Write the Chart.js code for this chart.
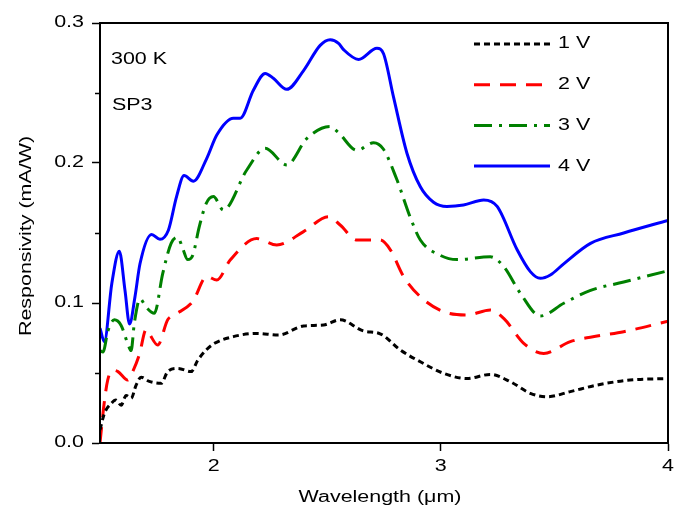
<!DOCTYPE html>
<html>
<head>
<meta charset="utf-8">
<script src="https://cdn.jsdelivr.net/npm/chart.js@4.4.0/dist/chart.umd.min.js"></script>
<style>
  html, body { margin: 0; padding: 0; background: #fff; }
  #chart { display: block; }
</style>
</head>
<body>
<canvas id="chart" width="674" height="512"></canvas>
<script>
// series labels
const seriesLabels = ['1 V', '2 V', '3 V', '4 V'];

// 1 V
const wl1V = [1.500, 1.519, 1.548, 1.570, 1.593, 1.615, 1.637, 1.659, 1.681, 1.717, 1.769, 1.798, 1.842, 1.901, 1.930, 1.967, 2.004, 2.087, 2.190, 2.285, 2.396, 2.484, 2.557, 2.660, 2.733, 2.822, 2.910, 3.012, 3.115, 3.218, 3.306, 3.394, 3.468, 3.570, 3.688, 3.833, 4.000];
const resp1V = [0.0093, 0.021, 0.028, 0.0307, 0.027, 0.034, 0.032, 0.0414, 0.047, 0.044, 0.0426, 0.051, 0.0533, 0.051, 0.059, 0.0664, 0.0712, 0.076, 0.0783, 0.0771, 0.0836, 0.0843, 0.088, 0.080, 0.078, 0.0664, 0.058, 0.0498, 0.046, 0.049, 0.0438, 0.0355, 0.033, 0.0367, 0.0414, 0.045, 0.046];

// 2 V
const wl2V = [1.500, 1.518, 1.534, 1.556, 1.579, 1.622, 1.644, 1.673, 1.703, 1.717, 1.754, 1.798, 1.827, 1.908, 1.970, 2.014, 2.073, 2.190, 2.278, 2.396, 2.506, 2.557, 2.631, 2.733, 2.778, 2.836, 2.910, 3.012, 3.115, 3.218, 3.277, 3.365, 3.453, 3.570, 3.688, 3.805, 4.000];
const resp2V = [0.0, 0.028, 0.045, 0.052, 0.051, 0.045, 0.051, 0.063, 0.081, 0.078, 0.070, 0.088, 0.0914, 0.101, 0.119, 0.1164, 0.1307, 0.146, 0.1414, 0.151, 0.1617, 0.1557, 0.145, 0.145, 0.138, 0.119, 0.1045, 0.0938, 0.0914, 0.095, 0.089, 0.0712, 0.064, 0.0724, 0.0764, 0.0795, 0.087];

// 3 V
const wl3V = [1.500, 1.513, 1.535, 1.563, 1.593, 1.622, 1.637, 1.651, 1.676, 1.703, 1.739, 1.776, 1.813, 1.842, 1.864, 1.886, 1.908, 1.937, 1.967, 1.999, 2.043, 2.146, 2.227, 2.322, 2.411, 2.513, 2.548, 2.631, 2.704, 2.747, 2.807, 2.866, 2.910, 2.998, 3.071, 3.218, 3.277, 3.350, 3.438, 3.541, 3.659, 3.805, 4.000];
const resp3V = [0.066, 0.065, 0.080, 0.088, 0.084, 0.071, 0.066, 0.0855, 0.103, 0.097, 0.0926, 0.121, 0.1426, 0.147, 0.139, 0.131, 0.134, 0.1545, 0.171, 0.176, 0.1664, 0.195, 0.2105, 0.1986, 0.2176, 0.226, 0.222, 0.209, 0.2145, 0.210, 0.188, 0.161, 0.145, 0.134, 0.131, 0.133, 0.126, 0.107, 0.0907, 0.0998, 0.109, 0.115, 0.123];

// 4 V
const wl4V = [1.500, 1.519, 1.552, 1.585, 1.610, 1.630, 1.654, 1.676, 1.727, 1.764, 1.801, 1.837, 1.870, 1.911, 1.969, 2.014, 2.087, 2.117, 2.175, 2.227, 2.263, 2.322, 2.396, 2.469, 2.513, 2.550, 2.572, 2.638, 2.719, 2.748, 2.792, 2.851, 2.910, 2.968, 3.027, 3.100, 3.189, 3.248, 3.336, 3.394, 3.438, 3.482, 3.541, 3.659, 3.805, 4.000];
const resp4V = [0.082, 0.0724, 0.114, 0.137, 0.109, 0.085, 0.1045, 0.128, 0.149, 0.1455, 0.152, 0.176, 0.191, 0.187, 0.203, 0.220, 0.232, 0.232, 0.252, 0.264, 0.2605, 0.2526, 0.266, 0.284, 0.288, 0.2855, 0.281, 0.274, 0.282, 0.278, 0.247, 0.207, 0.183, 0.172, 0.169, 0.170, 0.1736, 0.169, 0.138, 0.1224, 0.1176, 0.120, 0.128, 0.1426, 0.150, 0.159];

const xTickValues = [2, 3, 4];
const yTickValues = [0, 0.1, 0.2, 0.3];
const yMinorTicks = [0.05, 0.15, 0.25];
const notes = ['300 K', 'SP3'];
const xTitle = 'Wavelength (μm)';
const yTitle = 'Responsivity (mA/W)';

const FONT = '16px Liberation Sans, Arial, sans-serif';
const STRETCH = 1.34; // the original lettering is wide

const toPoints = (xs, ys) => xs.map((x, i) => ({ x: x, y: ys[i] }));

// text drawn wider than normal, along its own direction
const wideText = (ctx, text, x, y, align, angle) => {
    ctx.save();
    ctx.translate(x, y);
    if (angle) ctx.rotate(angle);
    ctx.scale(STRETCH, 1);
    ctx.textAlign = align;
    ctx.textBaseline = 'middle';
    ctx.fillText(text, 0, 0);
    ctx.restore();
};

const decorations = {
    id: 'decorations',
    afterDraw(chart) {
        const { ctx, chartArea: a, scales } = chart;
        ctx.save();
        // box around plot
        ctx.strokeStyle = '#000';
        ctx.lineWidth = 2;
        ctx.strokeRect(a.left, a.top, a.right - a.left, a.bottom - a.top);
        // minor ticks on the y axis
        ctx.lineWidth = 1.5;
        yMinorTicks.forEach(v => {
            const y = Math.round(scales.y.getPixelForValue(v)) + 0.5;
            ctx.beginPath();
            ctx.moveTo(a.left - 5, y);
            ctx.lineTo(a.left, y);
            ctx.stroke();
        });

        ctx.fillStyle = '#000';
        ctx.font = FONT;
        // tick labels
        scales.x.ticks.forEach(t => {
            wideText(ctx, String(t.value), scales.x.getPixelForValue(t.value), 467, 'center');
        });
        scales.y.ticks.forEach(t => {
            wideText(ctx, t.value.toFixed(1), 84, scales.y.getPixelForValue(t.value), 'right');
        });
        // axis titles
        wideText(ctx, xTitle, 380, 498, 'center');
        wideText(ctx, yTitle, 27, 236, 'center', -Math.PI / 2);
        // notes
        wideText(ctx, notes[0], 111, 60, 'left');
        wideText(ctx, notes[1], 112, 106, 'left');
        // legend
        chart.data.datasets.forEach((ds, i) => {
            const y = 44 + i * 40.7;
            ctx.strokeStyle = ds.borderColor;
            ctx.lineWidth = ds.borderWidth;
            ctx.setLineDash(ds.borderDash || []);
            ctx.beginPath();
            ctx.moveTo(474, y);
            ctx.lineTo(550, y);
            ctx.stroke();
            ctx.setLineDash([]);
            wideText(ctx, ds.label, 558, y, 'left');
        });
        ctx.restore();
    }
};

const lineStyle = (label, data, color, dash) => ({
    label: label,
    data: data,
    borderColor: color,
    borderWidth: 3,
    borderDash: dash,
    pointRadius: 0,
    fill: false,
    cubicInterpolationMode: 'monotone'
});

new Chart(document.getElementById('chart'), {
    type: 'line',
    data: {
        datasets: [
            lineStyle(seriesLabels[0], toPoints(wl1V, resp1V), '#000000', [6, 4]),
            lineStyle(seriesLabels[1], toPoints(wl2V, resp2V), '#ff0000', [16, 10]),
            lineStyle(seriesLabels[2], toPoints(wl3V, resp3V), '#008000', [18, 7, 3, 7]),
            lineStyle(seriesLabels[3], toPoints(wl4V, resp4V), '#0000ff', [])
        ]
    },
    options: {
        responsive: false,
        devicePixelRatio: 1,
        animation: false,
        layout: { padding: { top: 23, right: 6, left: 0, bottom: 0 } },
        plugins: {
            legend: { display: false },
            tooltip: { enabled: false }
        },
        scales: {
            x: {
                type: 'linear',
                min: 1.5,
                max: 4,
                afterBuildTicks: (scale) => { scale.ticks = xTickValues.map(v => ({ value: v })); },
                afterFit: (scale) => { scale.height = 69; },
                border: { display: true, color: '#000', width: 2 },
                grid: { drawOnChartArea: false, drawTicks: true, tickLength: 8, tickColor: '#000', tickWidth: 1.5 },
                ticks: { display: false }
            },
            y: {
                min: 0,
                max: 0.3,
                afterBuildTicks: (scale) => { scale.ticks = yTickValues.map(v => ({ value: v })); },
                afterFit: (scale) => { scale.width = 100; },
                border: { display: true, color: '#000', width: 2 },
                grid: { drawOnChartArea: false, drawTicks: true, tickLength: 8, tickColor: '#000', tickWidth: 1.5 },
                ticks: { display: false }
            }
        }
    },
    plugins: [decorations]
});
</script>
</body>
</html>
